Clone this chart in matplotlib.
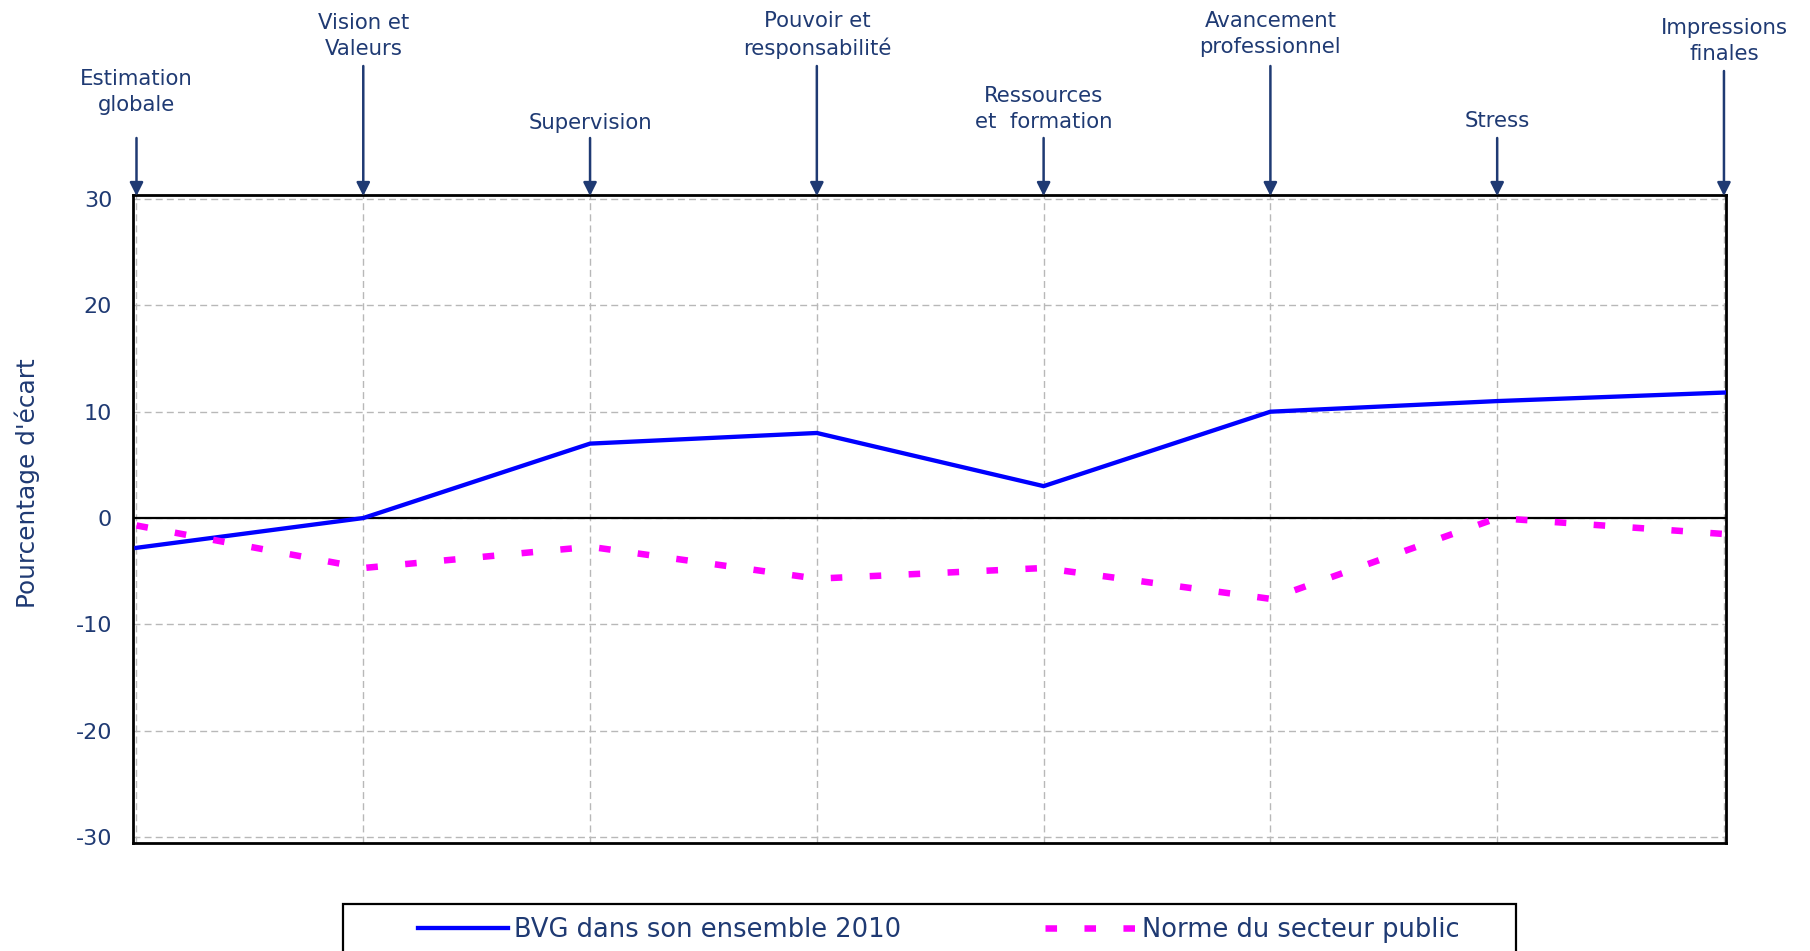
# -*- coding: utf-8 -*-

import numpy as np
import matplotlib
matplotlib.use('Agg')
import matplotlib.pyplot as plt
import matplotlib.transforms as mtransforms
from matplotlib.patches import Rectangle

plt.rcParams['axes.unicode_minus'] = False

# data
categories = ['Estimation\nglobale', 'Vision et\nValeurs', 'Supervision', 'Pouvoir et\nresponsabilité',
              'Ressources\net  formation', 'Avancement\nprofessionnel', 'Stress', 'Impressions\nfinales']
bvg_2010 = [-2.8, 0, 7, 8, 3, 10, 11, 11.8]
norme_public = [-0.7, -4.7, -2.7, -5.7, -4.7, -7.6, 0, -1.5]
yticks = [-30, -20, -10, 0, 10, 20, 30]
series_names = ['BVG dans son ensemble 2010', 'Norme du secteur public']

# label / arrow-start heights in figure pixels (from top)
label_y_px = [92, 36, 123, 35, 109, 34, 121, 41]
arrow_y_px = [138, 66, 138, 66, 138, 66, 138, 71]

navy = '#1f3a73'
W, H = 1810, 951

fig = plt.figure(figsize=(W / 100, H / 100), dpi=100)
ax = fig.add_axes([133 / W, 1 - 843 / H, (1726 - 133) / W, (843 - 195) / H])

x = np.arange(len(categories))
ax.plot(x, bvg_2010, color='#0000ff', lw=3.1, solid_joinstyle='miter', zorder=4)
ax.plot(x, norme_public, color='#ff00ff', lw=4.7, dashes=(1.77, 4.2), zorder=4)
ax.axhline(0, color='black', lw=1.6, zorder=3)

ax.set_xlim(-0.0154, 7.009)
ax.set_ylim(-30.56, 30.38)
ax.set_yticks(yticks)
ax.set_xticks(x)
ax.set_xticklabels([])
ax.tick_params(axis='both', length=0)
ax.tick_params(axis='y', pad=15, labelsize=16, labelcolor=navy)
ax.grid(True, color='#b8b8b8', lw=1.0, dashes=(5, 3))
for s in ax.spines.values():
    s.set_linewidth(2)
    s.set_color('black')

ax.set_ylabel("Pourcentage d'écart", fontsize=17.8, color=navy)
ax.yaxis.set_label_coords(-(133 - 27) / (1726 - 133), (843 - 483) / (843 - 195))
ax.yaxis.label.set_va('center')

# top category labels with arrows
trans = mtransforms.blended_transform_factory(ax.transData, fig.transFigure)
for i, lab in enumerate(categories):
    ax.text(i, 1 - label_y_px[i] / H, lab, transform=trans, ha='center', va='center',
            multialignment='center', linespacing=1.42, fontsize=15.3, color=navy, clip_on=False)
    ax.annotate('', xy=(i, 1 - 196 / H), xycoords=trans,
                xytext=(i, 1 - arrow_y_px[i] / H), textcoords=trans,
                arrowprops=dict(arrowstyle='-|>', color=navy, lw=1.8,
                                mutation_scale=20, shrinkA=0, shrinkB=0),
                annotation_clip=False)

# legend
fig.patches.append(Rectangle((343 / W, 1 - 962 / H), (1516 - 343) / W, (962 - 904) / H,
                             transform=fig.transFigure, fill=False, edgecolor='black',
                             lw=1.6, clip_on=False))
h1, = ax.plot([], [], color='#0000ff', lw=3.1)
h2, = ax.plot([], [], color='#ff00ff', lw=4.7, dashes=(1.77, 4.2))
leg = fig.legend([h1, h2], series_names, loc='center left', bbox_to_anchor=(418 / W, 1 - 930 / H),
                 ncol=2, frameon=False, fontsize=18.5, handlelength=3.5, handletextpad=0.25,
                 columnspacing=5.6, borderpad=0, borderaxespad=0)
for t in leg.get_texts():
    t.set_color(navy)

plt.savefig('out.png', dpi=100)
